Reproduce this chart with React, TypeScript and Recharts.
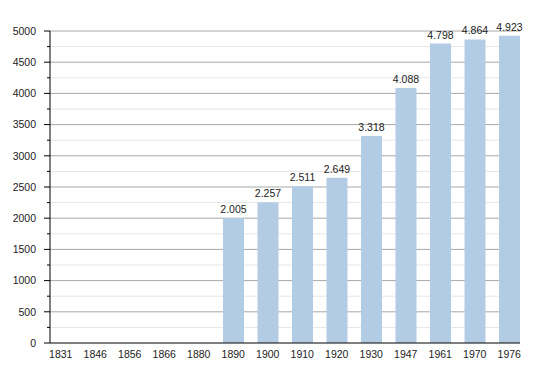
import { Bar, BarChart, CartesianGrid, LabelList, XAxis, YAxis } from "recharts";

const years = ["1831", "1846", "1856", "1866", "1880", "1890", "1900", "1910", "1920", "1930", "1947", "1961", "1970", "1976"];
const population: (number | null)[] = [null, null, null, null, null, 2005, 2257, 2511, 2649, 3318, 4088, 4798, 4864, 4923];
const majorTicks = [0, 500, 1000, 1500, 2000, 2500, 3000, 3500, 4000, 4500, 5000];
const minorTicks = [250, 750, 1250, 1750, 2250, 2750, 3250, 3750, 4250, 4750];
const allTicks = [...majorTicks, ...minorTicks].sort((a, b) => a - b);

const data = years.map((year, i) => ({ year, value: population[i] }));

const font = "'Liberation Sans', Arial, sans-serif";
const fmt = (v: number) => v.toLocaleString("de-DE");

function YTick(props: any) {
  const { x, y, payload } = props;
  const axisX = x + 14;
  const major = payload.value % 500 === 0;
  return (
    <g>
      <line x1={axisX - (major ? 6 : 3)} x2={axisX} y1={y} y2={y} stroke="#000" strokeWidth={1} />
      {major && (
        <text x={x} y={y} dy={3.8} textAnchor="end" fontSize={10.5} fontFamily={font} fill="#222">
          {payload.value}
        </text>
      )}
    </g>
  );
}

export default function App() {
  return (
    <div style={{ position: "absolute", left: 0, top: 0, width: 550, height: 373, background: "#fff" }}>
      <BarChart width={550} height={373} data={data} margin={{ top: 31, right: 30, bottom: 0, left: 0 }}>
        <CartesianGrid stroke="#e6e6e6" vertical={false} horizontalValues={minorTicks} />
        <CartesianGrid stroke="#a8a8a8" vertical={false} horizontalValues={majorTicks.slice(1)} />
        <XAxis
          dataKey="year"
          height={30}
          padding={{ left: -6.5, right: -6.5 }}
          axisLine={{ stroke: "#000" }}
          tickLine={false}
          tick={{ fontSize: 10.5, fontFamily: font, fill: "#222" }}
          tickMargin={2}
          interval={0}
        />
        <YAxis
          width={50}
          domain={[0, 5000]}
          ticks={allTicks}
          interval={0}
          axisLine={{ stroke: "#000" }}
          tickLine={false}
          tickSize={6}
          tickMargin={8}
          tick={<YTick />}
        />
        <Bar dataKey="value" fill="#b3cce6" barSize={21} isAnimationActive={false}>
          <LabelList
            dataKey="value"
            position="top"
            offset={5}
            formatter={(v: any) => (v == null ? "" : fmt(v))}
            style={{ fontSize: 10.5, fontFamily: font, fill: "#222" }}
          />
        </Bar>
      </BarChart>
    </div>
  );
}
